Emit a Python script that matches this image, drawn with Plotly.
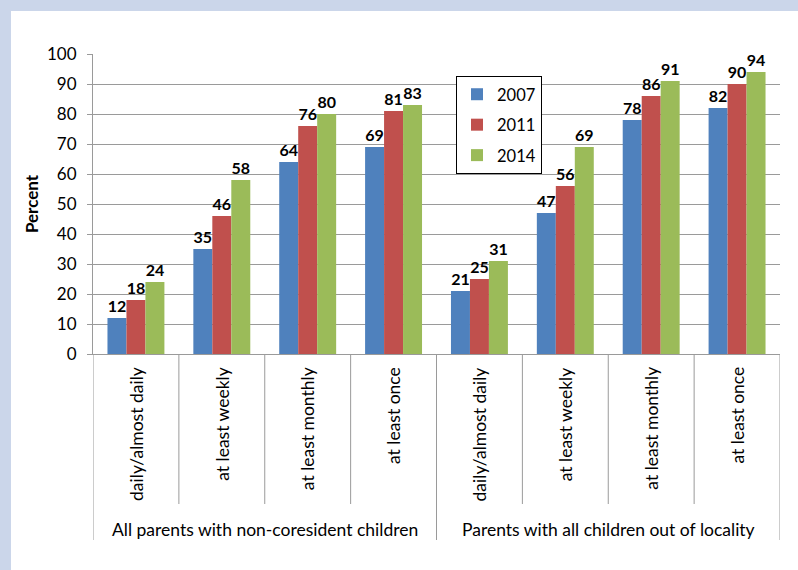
import plotly.graph_objects as go

groups = ["All parents with non-coresident children", "Parents with all children out of locality"]
categories = ["daily/almost daily", "at least weekly", "at least monthly", "at least once"]
years = ["2007", "2011", "2014"]
v2007 = [12, 35, 64, 69, 21, 47, 78, 82]
v2011 = [18, 46, 76, 81, 25, 56, 86, 90]
v2014 = [24, 58, 80, 83, 31, 69, 91, 94]
yticks = [0, 10, 20, 30, 40, 50, 60, 70, 80, 90, 100]

colors = ["#4F81BD", "#C0504D", "#9BBB59"]
FONT = "Lato"
n = len(categories) * len(groups)
xs = list(range(n))

fig = go.Figure()
for name, vals, c in zip(years, [v2007, v2011, v2014], colors):
    fig.add_trace(go.Bar(
        x=xs, y=vals, name=name, legendgroup=name, marker=dict(color=c, line=dict(width=0)),
        text=[str(v) for v in vals], textposition="outside",
        textfont=dict(family=FONT, size=16, color="black", weight="bold"),
        cliponaxis=False,
    ))

line_col = "#9A9A9A"
shapes = []
BL = "#CBD6EA"
W, H = 798, 570
L, R, T, B = 93, 780, 54, 354
def px_x(p): return (p - L) / (R - L)
def px_y(p): return (B - p) / (B - T)
shapes.append(dict(type="rect", xref="paper", yref="paper", x0=px_x(0), x1=px_x(11), y0=px_y(H), y1=px_y(0),
                   fillcolor=BL, line=dict(width=0), layer="below"))
shapes.append(dict(type="rect", xref="paper", yref="paper", x0=px_x(0), x1=px_x(W), y0=px_y(11), y1=px_y(0),
                   fillcolor=BL, line=dict(width=0), layer="below"))
for i in range(n + 1):
    xb = i - 0.5
    outer = (i % len(categories) == 0)
    shapes.append(dict(type="line", xref="x", yref="paper", x0=xb, x1=xb, y0=0,
                       y1=px_y(540 if outer else 504), line=dict(color=line_col, width=1)))

annotations = []
for i in range(n):
    annotations.append(dict(x=i, y=px_y(365), xref="x", yref="paper", text=categories[i % len(categories)],
                            textangle=-90, showarrow=False, yanchor="top", xanchor="center",
                            font=dict(family=FONT, size=17.5, color="black")))
for g, name in enumerate(groups):
    annotations.append(dict(x=g * len(categories) + (len(categories) - 1) / 2, y=px_y(529), xref="x", yref="paper",
                            text=name, showarrow=False, yanchor="middle", xanchor="center",
                            font=dict(family=FONT, size=17.5, color="black")))

fig.update_layout(
    width=W, height=H,
    margin=dict(l=L, r=W - R, t=T, b=H - B),
    paper_bgcolor="white", plot_bgcolor="white",
    barmode="group", bargap=0.337, bargroupgap=0,
    font=dict(family=FONT, size=15, color="black"),
    showlegend=True,
    legend=dict(x=px_x(456), y=px_y(76), xanchor="left", yanchor="top",
                bordercolor="black", borderwidth=1, bgcolor="white", tracegroupgap=6,
                font=dict(family=FONT, size=16.5, color="black"), itemwidth=30),
    shapes=shapes, annotations=annotations,
)
fig.update_xaxes(range=[-0.5, n - 0.5], showticklabels=False, showgrid=False, zeroline=False,
                 showline=True, linecolor=line_col, linewidth=1, ticks="")
fig.update_yaxes(range=[0, 100], tickvals=yticks, showgrid=True, gridcolor=line_col, gridwidth=1,
                 zeroline=False, showline=True, linecolor=line_col, linewidth=1,
                 ticks="outside", ticklen=5, tickcolor=line_col, ticklabelstandoff=7,
                 tickfont=dict(family=FONT, size=17, color="black"),
                 title=dict(text="Percent", font=dict(family=FONT, size=17, color="black", weight="bold"), standoff=4))

fig.write_html("out.html")
